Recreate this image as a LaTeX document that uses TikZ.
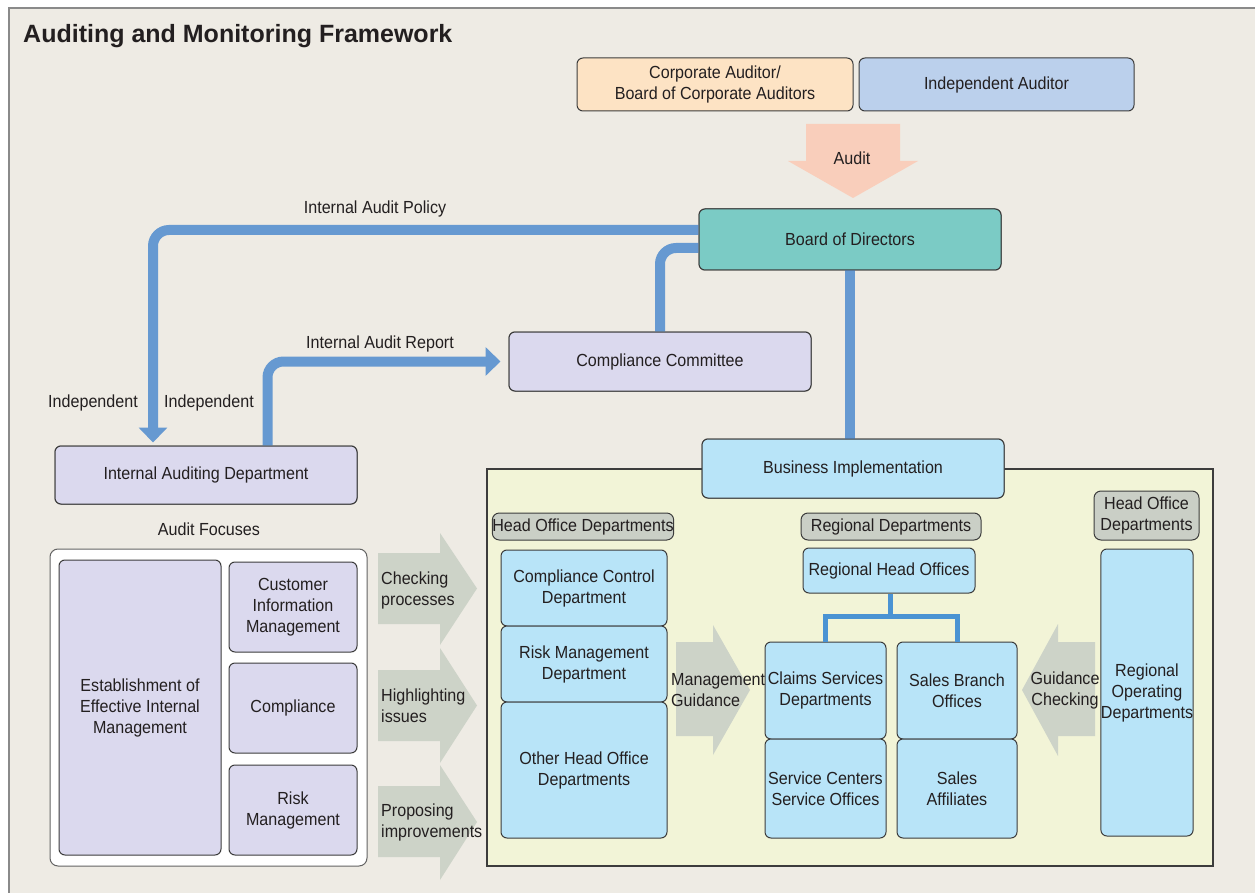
\documentclass[tikz,border=0pt]{standalone}
\usepackage{fontspec}
\setmainfont[FakeStretch=0.92]{Liberation Sans}
\newfontfamily\titlefont{Liberation Sans}
\usetikzlibrary{arrows.meta,calc}
\definecolor{bg}{HTML}{EEEBE4}
\definecolor{frame}{HTML}{8A8A8A}
\definecolor{txt}{HTML}{231F20}
\definecolor{bord}{HTML}{3C3C3C}
\definecolor{peach}{HTML}{FDE3C4}
\definecolor{indep}{HTML}{BBD0EC}
\definecolor{teal}{HTML}{7BCBC5}
\definecolor{lav}{HTML}{DBD9EE}
\definecolor{lblue}{HTML}{B8E4F8}
\definecolor{panel}{HTML}{F2F4D7}
\definecolor{tag}{HTML}{CACFC6}
\definecolor{garrow}{HTML}{CDD3C8}
\definecolor{audarrow}{HTML}{F9CEBB}
\definecolor{bline}{HTML}{6699D1}
\definecolor{tline}{HTML}{4A93D3}
\begin{document}
\begin{tikzpicture}[x=1pt,y=-1pt,
  font=\fontsize{17.5}{21}\selectfont, text=txt,
  box/.style={draw=bord, line width=1pt, rounded corners=6pt, align=center, inner sep=0pt},
  tagbox/.style={box, fill=tag, rounded corners=7pt},
  flow/.style={draw=bline, line width=10pt, rounded corners=16pt},
  tree/.style={draw=tline, line width=5pt},
  lbl/.style={inner sep=0pt, align=center}]
\useasboundingbox (0,0) rectangle (1255,893);
\clip (0,0) rectangle (1255,893);
% background frame
\fill[white] (0,0) rectangle (1255,893);
\filldraw[fill=bg, draw=frame, line width=1.2pt] (9,8) rectangle (1270,910);
\node[anchor=west, inner sep=0pt, font=\fontsize{25}{28}\titlefont\bfseries] (title) at (23,36) {Auditing and Monitoring Framework};

% top auditors
\node[box, fill=peach, minimum width=276pt, minimum height=53pt] (corp) at (715,84.5) {Corporate Auditor/\\Board of Corporate Auditors};
\node[box, fill=indep, minimum width=275pt, minimum height=53pt] (indep) at (996.5,84.5) {Independent Auditor};

% audit arrow
\fill[audarrow] (806,124) -- (900,124) -- (900,161) -- (918,161) -- (853,198) -- (788,161) -- (806,161) -- cycle;
\node[lbl] (audit) at (852,158) {Audit};

% yellow panel
\filldraw[fill=panel, draw=bord, line width=1.2pt] (487,469) rectangle (1213,866);

% main boxes
\node[box, fill=teal, minimum width=302pt, minimum height=61pt] (board) at (850,239.5) {Board of Directors};
\node[box, fill=lav, minimum width=302pt, minimum height=59pt] (comm) at (660,361.5) {Compliance Committee};
\node[box, fill=lav, minimum width=302pt, minimum height=58pt] (iad) at (206,475) {Internal Auditing Department};
\node[box, fill=lblue, minimum width=302pt, minimum height=59pt] (bi) at (853,468.5) {Business Implementation};

% connectors
\draw[flow, -{Triangle[width=28pt,length=15pt]}, shorten >=3pt]
  ([yshift=9.5pt]board.west) -| ([xshift=-53pt]iad.north);
\draw[flow] ([yshift=-8.5pt]board.west) -| (comm.north);
\draw[flow, -{Triangle[width=28pt,length=15pt]}, shorten >=8pt]
  ([xshift=61.5pt]iad.north) |- (comm.west);
\draw[draw=bline, line width=10pt] (board.south) -- (board.south |- bi.north);
% redraw boxes on top of line ends
\node[box, fill=teal, minimum width=302pt, minimum height=61pt] at (board) {Board of Directors};
\node[box, fill=lav, minimum width=302pt, minimum height=59pt] at (comm) {Compliance Committee};
\node[box, fill=lav, minimum width=302pt, minimum height=58pt] at (iad) {Internal Auditing Department};
\node[box, fill=lblue, minimum width=302pt, minimum height=59pt] at (bi) {Business Implementation};

\node[lbl] (lpol) at (375,209) {Internal Audit Policy};
\node[lbl] (lrep) at (380,344) {Internal Audit Report};
\node[lbl] (ind1) at (93,403) {Independent};
\node[lbl] (ind2) at (209,403) {Independent};
\node[lbl] (focus) at (209,529) {Audit Focuses};

% audit focuses
\filldraw[fill=white, draw=bord!80, line width=1pt, rounded corners=8pt] (50,549) rectangle (367,866);
\node[box, fill=lav, minimum width=162pt, minimum height=295pt] (est) at (140,707.5) {Establishment of\\Effective Internal\\Management};
\node[box, fill=lav, minimum width=128pt, minimum height=90pt] (cim) at (293,607) {Customer\\Information\\Management};
\node[box, fill=lav, minimum width=128pt, minimum height=90pt] (cmp) at (293,708) {Compliance};
\node[box, fill=lav, minimum width=128pt, minimum height=90pt] (rsk) at (293,810) {Risk\\Management};

% side arrows
\fill[garrow] (378,553) -- (440,553) -- (440,533) -- (477,588.5) -- (440,645) -- (440,624) -- (378,624) -- cycle;
\fill[garrow] (378,670) -- (440,670) -- (440,648) -- (477,705.5) -- (440,763) -- (440,741) -- (378,741) -- cycle;
\fill[garrow] (378,786) -- (440,786) -- (440,765) -- (477,822) -- (440,880) -- (440,857) -- (378,857) -- cycle;
\node[lbl, anchor=west, align=left] (chk) at (381,590) {Checking\\processes};
\node[lbl, anchor=west, align=left] (hil) at (381,706) {Highlighting\\issues};
\node[lbl, anchor=west, align=left] (pro) at (381,822) {Proposing\\improvements};

% head office departments
\node[tagbox, minimum width=180pt, minimum height=27pt] (hod) at (583,526.5) {Head Office Departments};
\node[box, fill=lblue, minimum width=166pt, minimum height=76pt] (ccd) at (584,588) {Compliance Control\\Department};
\node[box, fill=lblue, minimum width=166pt, minimum height=76pt] (rmd) at (584,664) {Risk Management\\Department};
\node[box, fill=lblue, minimum width=166pt, minimum height=136pt] (oth) at (584,770) {Other Head Office\\Departments};

\fill[garrow] (676,642) -- (713,642) -- (713,625) -- (750,690) -- (713,755) -- (713,736) -- (676,736) -- cycle;
\node[lbl, anchor=west, align=left] (mg) at (671,690) {Management\\Guidance};

% regional departments
\node[tagbox, minimum width=180pt, minimum height=27pt] (rd) at (891,526.5) {Regional Departments};
\node[box, fill=lblue, minimum width=172pt, minimum height=45pt] (rho) at (889,570.5) {Regional Head Offices};
\node[box, fill=lblue, minimum width=121pt, minimum height=97pt] (cls) at (825.5,690.5) {Claims Services\\Departments};
\node[box, fill=lblue, minimum width=120pt, minimum height=97pt] (sbo) at (957,690.5) {Sales Branch\\Offices};
\node[box, fill=lblue, minimum width=121pt, minimum height=99pt] (scs) at (825.5,788.5) {Service Centers\\Service Offices};
\node[box, fill=lblue, minimum width=120pt, minimum height=99pt] (saf) at (957,788.5) {Sales\\Affiliates};
\coordinate (br) at (890,616);
\draw[tree] (rho.south -| br) -- (br);
\draw[tree] (cls.north) |- (br) -| (sbo.north);

\fill[garrow] (1095,642) -- (1058,642) -- (1058,624) -- (1022,690) -- (1058,756) -- (1058,736) -- (1095,736) -- cycle;
\node[lbl] (gc) at (1065,690) {Guidance\\Checking};

% right head office
\node[tagbox, minimum width=105pt, minimum height=49pt] (hod2) at (1146.5,515.5) {Head Office\\Departments};
\node[box, fill=lblue, minimum width=90pt, minimum height=287pt] (rod) at (1147,692.5) {Regional\\Operating\\Departments};
\end{tikzpicture}
\end{document}
